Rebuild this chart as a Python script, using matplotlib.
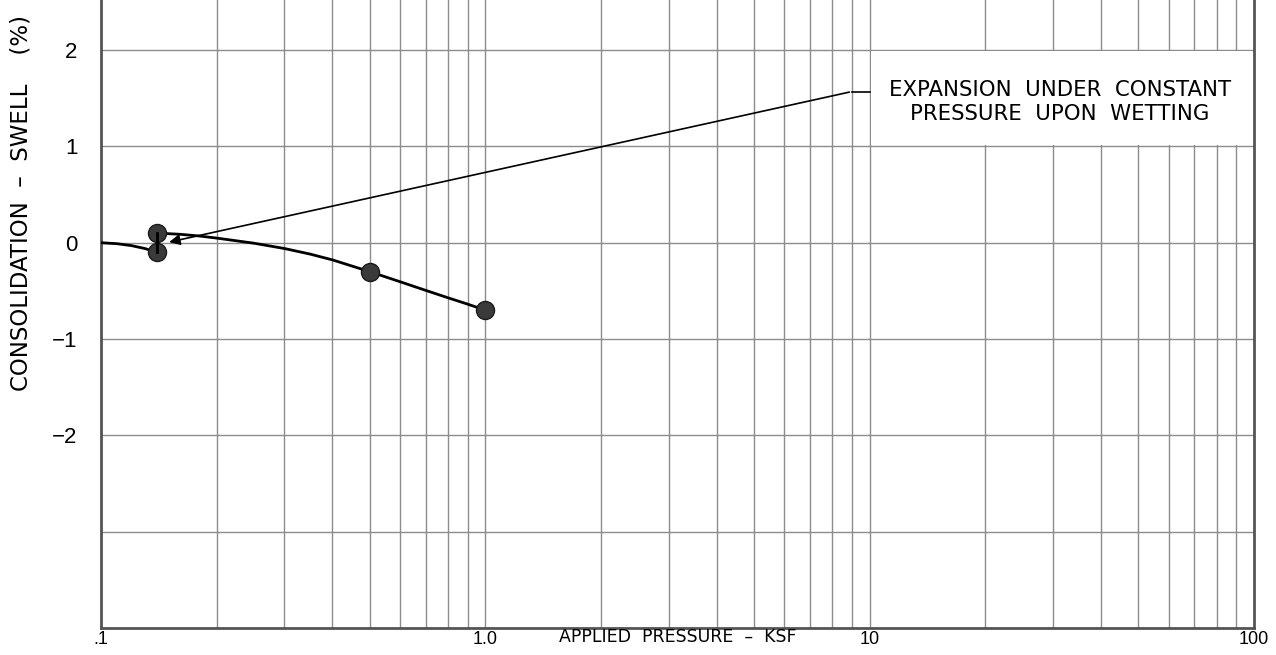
import numpy as np
import matplotlib.pyplot as plt
from matplotlib.patches import Rectangle

# measured points (pressure ksf, consolidation-swell %)
p_pts = [0.14, 0.14, 0.5, 1.0]
s_pts = [0.1, -0.1, -0.3, -0.7]

# loading curve before wetting
p_load = [0.1, 0.11, 0.12, 0.13, 0.14]
s_load = [0.0, -0.01, -0.03, -0.06, -0.1]

# swell at constant pressure
p_wet = [0.14, 0.14]
s_wet = [-0.1, 0.1]

# curve after wetting
p_after = [0.14, 0.16, 0.18, 0.2, 0.25, 0.3, 0.35, 0.4, 0.5, 0.6, 0.7, 0.8, 0.9, 1.0]
s_after = [0.1, 0.088, 0.07, 0.048, -0.005, -0.06, -0.118, -0.178, -0.3, -0.405, -0.495, -0.572, -0.638, -0.7]

xticks = [0.1, 1.0, 10, 100]
xticklabels = ['.1', '1.0', '10', '100']
yticks = [-4, -3, -2, -1, 0, 1, 2]
yticklabels = ['', '', '\u22122', '\u22121', '0', '1', '2']

note = 'EXPANSION  UNDER  CONSTANT\nPRESSURE  UPON  WETTING'

fig = plt.figure(figsize=(12.76, 6.55), dpi=100)
ax = fig.add_axes([101/1276, 27/655, 1153/1276, 628/655])

ax.set_xscale('log')
ax.set_xlim(0.1, 100)
ax.set_ylim(-4, 2.52)
ax.set_axisbelow(True)

ax.grid(which='major', axis='both', color='#8c8c8c', linewidth=1.0)
ax.grid(which='minor', axis='x', color='#8c8c8c', linewidth=1.0)
ax.tick_params(which='both', length=0)
ax.tick_params(axis='y', pad=17, labelsize=16)
ax.tick_params(axis='x', pad=2, labelsize=13)

ax.set_xticks(xticks)
ax.set_xticklabels(xticklabels)
ax.set_yticks(yticks)
ax.set_yticklabels(yticklabels)
for lab in ax.get_xticklabels() + ax.get_yticklabels():
    lab.set_family('Liberation Sans')

for side in ['left', 'bottom', 'right']:
    ax.spines[side].set_color('#555555')
    ax.spines[side].set_linewidth(2)
ax.spines['top'].set_visible(False)

# white note box over the grid
ax.add_patch(Rectangle((10.1, 1.01), 89.0, 0.98, facecolor='white', edgecolor='none', zorder=1))

ax.plot(p_load, s_load, color='black', lw=2, zorder=3, solid_joinstyle='round')
ax.plot(p_wet, s_wet, color='black', lw=2, zorder=5)
ax.plot(p_after, s_after, color='black', lw=2, zorder=3, solid_joinstyle='round')
ax.plot(p_pts, s_pts, 'o', markersize=13, markerfacecolor='#3a3a3a', markeredgecolor='#1a1a1a', zorder=4)

# leader line with arrow
ax.plot([9.0, 10.0], [1.57, 1.57], color='black', lw=1.2, zorder=3)
ax.annotate('', xy=(0.148, 0.0), xytext=(9.0, 1.57),
            arrowprops=dict(arrowstyle='-|>', color='black', lw=1.2, mutation_scale=16), zorder=3)
ax.text(31.2, 1.46, note, ha='center', va='center', fontsize=15.3, linespacing=1.2,
        family='DejaVu Sans', zorder=5)

ax.text(0.5, -0.0145, 'APPLIED  PRESSURE  \u2013  KSF', transform=ax.transAxes, ha='center', va='center',
        fontsize=12.5, family='DejaVu Sans')
fig.text(21/1276, 1 - 203/655, 'CONSOLIDATION  \u2013  SWELL    (%)', rotation=90, ha='center', va='center',
         fontsize=16.5, family='DejaVu Sans')

plt.savefig('out.png', dpi=100)
